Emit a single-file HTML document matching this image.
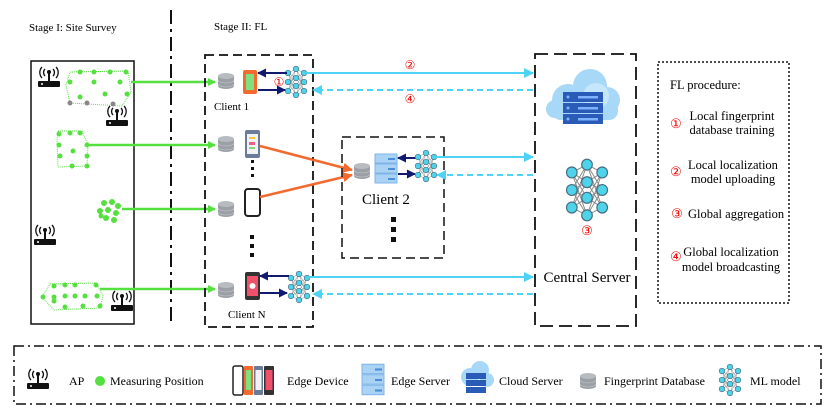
<!DOCTYPE html>
<html><head><meta charset="utf-8"><style>
body{margin:0;background:#fff}
svg{display:block;font-family:"Liberation Serif",serif}
</style></head><body>
<svg width="830" height="417" viewBox="0 0 830 417" xmlns="http://www.w3.org/2000/svg">
<defs>
<g id="nn">
 <g stroke="#888" stroke-width="0.5">
  <path d="M-8,-9L0,-13M-8,-9L0,-4M-8,-9L0,4M-8,-9L0,13M-8,0L0,-13M-8,0L0,-4M-8,0L0,4M-8,0L0,13M-8,9L0,-13M-8,9L0,-4M-8,9L0,4M-8,9L0,13M8,-9L0,-13M8,-9L0,-4M8,-9L0,4M8,-9L0,13M8,0L0,-13M8,0L0,-4M8,0L0,4M8,0L0,13M8,9L0,-13M8,9L0,-4M8,9L0,4M8,9L0,13"/>
 </g>
 <g fill="#4dd3ea" stroke="#4a6b80" stroke-width="0.6">
  <circle cx="-8" cy="-9" r="2.8"/><circle cx="-8" cy="0" r="2.8"/><circle cx="-8" cy="9" r="2.8"/>
  <circle cx="0" cy="-13" r="2.8"/><circle cx="0" cy="-4" r="2.8"/><circle cx="0" cy="4" r="2.8"/><circle cx="0" cy="13" r="2.8"/>
  <circle cx="8" cy="-9" r="2.8"/><circle cx="8" cy="0" r="2.8"/><circle cx="8" cy="9" r="2.8"/>
 </g>
</g>
<g id="db">
 <path d="M-8,-5 v10 a8,3 0 0 0 16,0 v-10" fill="#9aa0a6"/>
 <ellipse cx="0" cy="-5" rx="8" ry="3" fill="#b8bcc0"/>
 <path d="M-8,-1 a8,3 0 0 0 16,0 M-8,3 a8,3 0 0 0 16,0" fill="none" stroke="#c9ccd0" stroke-width="0.6"/>
</g>
<g id="ap">
 <rect x="-11" y="3" width="22" height="6" rx="1" fill="#111"/>
 <rect x="-1" y="-6" width="2" height="9" fill="#111"/>
 <circle cx="0" cy="-6" r="2" fill="#111"/>
 <path d="M-4,-9 a5,5 0 0 0 0,7 M4,-9 a5,5 0 0 1 0,7 M-7,-11 a8,8 0 0 0 0,11 M7,-11 a8,8 0 0 1 0,11" fill="none" stroke="#111" stroke-width="1.3"/>
 <circle cx="-7" cy="6" r="1" fill="#fff"/>
</g>
<g id="srv">
 <rect x="-11" y="-15" width="22" height="9" fill="#a9d2f5" stroke="#7fb5e6"/>
 <rect x="-11" y="-5" width="22" height="9" fill="#a9d2f5" stroke="#7fb5e6"/>
 <rect x="-11" y="5" width="22" height="9" fill="#a9d2f5" stroke="#7fb5e6"/>
 <rect x="2" y="-11" width="7" height="2" fill="#4a8fd6"/><rect x="2" y="-1" width="7" height="2" fill="#4a8fd6"/><rect x="2" y="9" width="7" height="2" fill="#4a8fd6"/>
</g>
<marker id="ag" markerWidth="8" markerHeight="8" refX="7" refY="4" orient="auto" markerUnits="userSpaceOnUse"><path d="M0,0L8,4L0,8z" fill="#55e040"/></marker>
<marker id="ac" markerWidth="10" markerHeight="10" refX="9" refY="5" orient="auto" markerUnits="userSpaceOnUse"><path d="M0,0L10,5L0,10z" fill="#4dd3f5"/></marker>
<marker id="ab" markerWidth="9" markerHeight="9" refX="8" refY="4.5" orient="auto" markerUnits="userSpaceOnUse"><path d="M0,0L9,4.5L0,9z" fill="#101a70"/></marker>
<marker id="ao" markerWidth="10" markerHeight="10" refX="9" refY="5" orient="auto" markerUnits="userSpaceOnUse"><path d="M0,0L10,5L0,10z" fill="#f26a2e"/></marker>
</defs>

<text x="29" y="31" font-size="11">Stage I: Site Survey</text>
<text x="214" y="30" font-size="11">Stage II: FL</text>
<line x1="171" y1="10" x2="171" y2="325" stroke="#111" stroke-width="2" stroke-dasharray="14,5,3,5"/>

<rect x="31" y="61" width="103" height="263" fill="none" stroke="#111" stroke-width="1.5"/>
<use href="#ap" x="49" y="78"/>
<use href="#ap" x="117" y="117"/>
<use href="#ap" x="45" y="236"/>
<use href="#ap" x="122" y="302"/>
<g fill="#55e040">
<path d="M70,72 L128,71 L131,92 L122,106 L70,103 L66,85z" fill="none" stroke="#55e040" stroke-dasharray="1,1"/>
<circle cx="80" cy="72" r="2.5"/><circle cx="94" cy="72" r="2.5"/><circle cx="110" cy="72" r="2.5"/><circle cx="126" cy="72" r="2.5"/>
<circle cx="70" cy="82" r="2.5"/><circle cx="94" cy="82" r="2.5"/><circle cx="120" cy="82" r="2.5"/>
<circle cx="80" cy="97" r="2.5"/><circle cx="105" cy="94" r="2.5"/><circle cx="127" cy="94" r="2.5"/>
<circle cx="70" cy="103" r="2.5" fill="#888"/><circle cx="87" cy="103" r="2.5" fill="#888"/><circle cx="113" cy="104" r="2.5" fill="#888"/>
<path d="M58,131 L82,131 L88,145 L87,166 L58,167 L57,140z" fill="none" stroke="#55e040" stroke-dasharray="1,1"/>
<circle cx="59" cy="134" r="2.5"/><circle cx="70" cy="133" r="2.5"/><circle cx="80" cy="133" r="2.5"/><circle cx="59" cy="145" r="2.5"/><circle cx="87" cy="145" r="2.5"/><circle cx="73" cy="151" r="2.5"/><circle cx="60" cy="156" r="2.5"/><circle cx="87" cy="156" r="2.5"/><circle cx="72" cy="166" r="2.5"/><circle cx="87" cy="166" r="2.5"/>
<circle cx="104" cy="203" r="3"/><circle cx="112" cy="202" r="3"/><circle cx="118" cy="206" r="3"/><circle cx="100" cy="211" r="3"/><circle cx="108" cy="210" r="3"/><circle cx="116" cy="213" r="3"/><circle cx="106" cy="218" r="3"/><circle cx="114" cy="220" r="3"/><circle cx="101" cy="216" r="2.5"/>
<path d="M50,284 L96,283 L103,296 L100,308 L54,310 L42,297z" fill="none" stroke="#55e040" stroke-dasharray="1,1"/>
<circle cx="54" cy="286" r="2.5"/><circle cx="65" cy="285" r="2.5"/><circle cx="75" cy="285" r="2.5"/><circle cx="96" cy="285" r="2.5"/>
<circle cx="43" cy="297" r="2.5"/><circle cx="54" cy="297" r="2.5"/><circle cx="65" cy="296" r="2.5"/><circle cx="75" cy="296" r="2.5"/><circle cx="85" cy="296" r="2.5"/><circle cx="97" cy="296" r="2.5"/>
<circle cx="54" cy="301" r="2.5"/><circle cx="65" cy="307" r="2.5"/><circle cx="83" cy="306" r="2.5"/><circle cx="100" cy="306" r="2.5"/>
</g>

<g stroke="#55e040" stroke-width="2.5" marker-end="url(#ag)">
<line x1="131" y1="82" x2="215" y2="82"/>
<line x1="88" y1="145" x2="215" y2="145"/>
<line x1="122" y1="209" x2="215" y2="209"/>
<line x1="100" y1="289" x2="215" y2="289"/>
</g>

<rect x="205" y="55" width="108" height="272" fill="none" stroke="#111" stroke-width="1.8" stroke-dasharray="9,5"/>
<use href="#db" x="226" y="81"/>
<use href="#db" x="226" y="144"/>
<use href="#db" x="226" y="209"/>
<use href="#db" x="226" y="290"/>
<text x="214" y="110" font-size="11">Client 1</text>
<text x="228" y="318" font-size="11">Client N</text>
<rect x="243" y="70" width="14" height="24" rx="2" fill="#f26a2e"/><rect x="246" y="74" width="8" height="16" fill="#7fe07f"/>
<rect x="245" y="130" width="15" height="28" rx="2" fill="#6c7a99"/><rect x="247" y="134" width="11" height="20" fill="#f0f2f5"/>
<rect x="249" y="137" width="6" height="2" fill="#f5c542"/><rect x="249" y="142" width="6" height="3" fill="#f25c8a"/><rect x="249" y="147" width="6" height="2" fill="#8ad17a"/>
<rect x="245" y="189" width="15" height="27" rx="3" fill="#fff" stroke="#222" stroke-width="2"/>
<rect x="245" y="272" width="15" height="28" rx="2" fill="#333"/><rect x="247" y="276" width="11" height="20" fill="#f0506a"/><circle cx="252.5" cy="286" r="3" fill="#fff"/>
<g fill="#111"><rect x="251" y="160" width="3" height="3"/><rect x="251" y="167" width="3" height="3"/><rect x="251" y="174" width="3" height="3"/>
<rect x="250" y="235" width="4" height="4"/><rect x="250" y="244" width="4" height="4"/><rect x="250" y="253" width="4" height="4"/></g>
<use href="#nn" x="296" y="82"/>
<use href="#nn" x="299" y="287"/>
<text x="279" y="86" font-size="12" fill="#e00" text-anchor="middle">①</text>
<g stroke="#101a70" stroke-width="2" marker-end="url(#ab)">
<line x1="287" y1="73" x2="258" y2="73"/><line x1="258" y1="90" x2="285" y2="90"/>
<line x1="289" y1="276" x2="260" y2="276"/><line x1="260" y1="293" x2="287" y2="293"/>
<line x1="416" y1="158" x2="398" y2="158"/><line x1="398" y1="174" x2="415" y2="174"/>
</g>

<g stroke="#f26a2e" stroke-width="2.5" marker-end="url(#ao)">
<line x1="260" y1="146" x2="352" y2="170"/><line x1="260" y1="197" x2="352" y2="175"/>
</g>

<rect x="342" y="137" width="102" height="121" fill="none" stroke="#111" stroke-width="1.5" stroke-dasharray="9,5"/>
<use href="#db" x="362" y="171"/>
<use href="#srv" x="386" y="169"/>
<use href="#nn" x="426" y="166"/>
<text x="362" y="204" font-size="15">Client 2</text>
<g fill="#111"><rect x="391" y="217" width="5" height="5"/><rect x="391" y="227" width="5" height="5"/><rect x="391" y="237" width="5" height="5"/></g>

<g stroke="#4dd3f5" stroke-width="2">
<line x1="306" y1="73" x2="533" y2="73" marker-end="url(#ac)"/>
<line x1="533" y1="90" x2="313" y2="90" stroke-dasharray="6,4" marker-end="url(#ac)"/>
<line x1="434" y1="157" x2="533" y2="157" marker-end="url(#ac)"/>
<line x1="533" y1="175" x2="437" y2="175" stroke-dasharray="6,4" marker-end="url(#ac)"/>
<line x1="309" y1="277" x2="533" y2="277" marker-end="url(#ac)"/>
<line x1="533" y1="294" x2="313" y2="294" stroke-dasharray="6,4" marker-end="url(#ac)"/>
</g>
<text x="410" y="69" font-size="12" fill="#e00" text-anchor="middle">②</text>
<text x="410" y="103" font-size="12" fill="#e00" text-anchor="middle">④</text>

<rect x="535" y="54" width="101" height="272" fill="none" stroke="#111" stroke-width="1.8" stroke-dasharray="13,6"/>
<g fill="#a8d8f8">
<circle cx="568" cy="100" r="16"/><circle cx="590" cy="86" r="17"/><circle cx="607" cy="100" r="13"/><circle cx="555" cy="109" r="9"/>
<rect x="552" y="100" width="66" height="20" rx="9"/>
</g>
<circle cx="596" cy="96" r="13" fill="#c6e6fb"/>
<g fill="#2a5bb8"><rect x="563" y="92" width="40" height="10"/><rect x="563" y="103" width="40" height="10"/><rect x="563" y="114" width="40" height="10"/></g>
<g fill="#7fb2ff"><circle cx="568" cy="97" r="1.5"/><circle cx="568" cy="108" r="1.5"/><circle cx="568" cy="119" r="1.5"/><rect x="578" y="96" width="20" height="2.5"/><rect x="578" y="107" width="20" height="2.5"/><rect x="578" y="118" width="20" height="2.5"/></g>
<g transform="translate(587,190) scale(1.9,1.95)"><use href="#nn"/></g>
<text x="587" y="235" font-size="13" fill="#e00" text-anchor="middle">③</text>
<text x="587" y="282" font-size="15" text-anchor="middle">Central Server</text>

<rect x="658" y="62" width="131" height="241" fill="none" stroke="#111" stroke-width="1.5" stroke-dasharray="2,2"/>
<g font-size="12.5">
<text x="670" y="89">FL procedure:</text>
<text x="676" y="128" fill="#e00" text-anchor="middle" font-size="13">①</text>
<text x="732" y="120" text-anchor="middle">Local fingerprint</text>
<text x="732" y="134" text-anchor="middle">database training</text>
<text x="676" y="176" fill="#e00" text-anchor="middle" font-size="13">②</text>
<text x="733" y="169" text-anchor="middle">Local localization</text>
<text x="733" y="183" text-anchor="middle">model uploading</text>
<text x="677" y="218" fill="#e00" text-anchor="middle" font-size="13">③</text>
<text x="688" y="218">Global aggregation</text>
<text x="676" y="261" fill="#e00" text-anchor="middle" font-size="13">④</text>
<text x="731" y="256" text-anchor="middle">Global localization</text>
<text x="731" y="271" text-anchor="middle">model  broadcasting</text>
</g>

<rect x="14" y="346" width="807" height="58" fill="none" stroke="#111" stroke-width="1.5" stroke-dasharray="10,4,2,4"/>
<use href="#ap" x="38" y="380"/>
<g font-size="12">
<text x="69" y="385">AP</text>
<circle cx="100" cy="381" r="5" fill="#55e040"/>
<text x="110" y="385">Measuring Position</text>
<text x="287" y="385">Edge Device</text>
<text x="391" y="385">Edge Server</text>
<text x="499" y="385">Cloud Server</text>
<text x="604" y="385">Fingerprint Database</text>
<text x="750" y="385">ML model</text>
</g>
<rect x="233" y="366" width="10" height="29" rx="2" fill="#fff" stroke="#222" stroke-width="1.5"/>
<rect x="244" y="366" width="9" height="29" rx="1" fill="#f26a2e"/><rect x="246" y="370" width="5" height="20" fill="#7fe07f"/>
<rect x="254" y="366" width="9" height="29" rx="1" fill="#6c7a99"/><rect x="255.5" y="370" width="6" height="20" fill="#f0f2f5"/>
<rect x="264" y="366" width="10" height="29" rx="1" fill="#333"/><rect x="265.5" y="370" width="7" height="20" fill="#f0506a"/>
<g transform="translate(373,380) scale(1,1.05)"><use href="#srv"/></g>
<g fill="#a8d8f8"><circle cx="470" cy="377" r="9"/><circle cx="480" cy="370" r="9"/><circle cx="487" cy="380" r="7"/></g>
<g fill="#2a5bb8"><rect x="466" y="373" width="20" height="6"/><rect x="466" y="380" width="20" height="6"/><rect x="466" y="387" width="20" height="6"/></g>
<use href="#db" x="588" y="381"/>
<use href="#nn" x="730" y="380"/>
</svg>
</body></html>
